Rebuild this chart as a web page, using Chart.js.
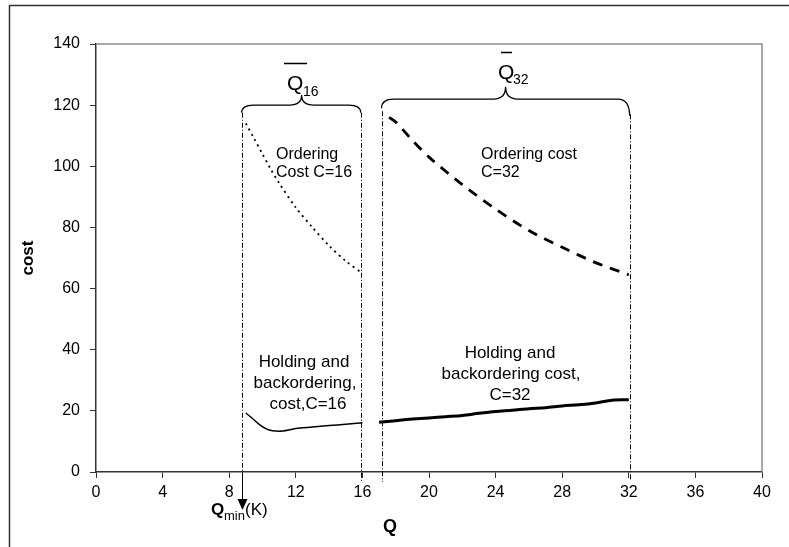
<!DOCTYPE html>
<html lang="en">
<head>
    <meta charset="UTF-8">
    <title>Cost vs Q</title>
    <script src="https://cdn.jsdelivr.net/npm/chart.js@4.4.0/dist/chart.umd.min.js"></script>
    <style>
        html, body { margin: 0; padding: 0; background: #fff; }
        #wrap { width: 789px; height: 547px; }
    </style>
</head>
<body>
    <div id="wrap"><canvas id="costChart" width="789" height="547"></canvas></div>

    <script>
        // values
        const qOrder16 = [9.0, 9.5, 10, 10.5, 11, 12, 13, 14, 15, 16];
        const costOrder16 = [114, 109, 104, 99, 94.5, 86.5, 80, 74, 69, 65];

        const qOrder32 = [17.6, 18, 19, 20, 22, 24, 26, 28, 30, 32];
        const costOrder32 = [116, 114.5, 108.5, 103, 94, 86, 79, 73.5, 68.5, 64.5];

        const qHold16 = [9.0, 9.4, 9.8, 10.2, 10.6, 11.2, 12, 13, 14, 15, 16];
        const costHold16 = [19.3, 17.5, 15.6, 14.2, 13.5, 13.4, 14.2, 14.7, 15.2, 15.6, 16.1];

        const qHold32 = [17, 18, 19, 20, 21, 22, 23, 24, 25, 26, 27, 28, 29, 30, 31, 32];
        const costHold32 = [16.3, 16.8, 17.3, 17.7, 18.1, 18.5, 19.2, 19.8, 20.2, 20.7, 21.0, 21.6, 22.0, 22.6, 23.5, 23.6];

        // range boundaries (Q) for the two braces
        const range16 = [8.75, 15.9];
        const range32 = [17.15, 32.05];
        const qMin = 8.75;

        const xTicks = [0, 4, 8, 12, 16, 20, 24, 28, 32, 36, 40];
        const yTicks = [0, 20, 40, 60, 80, 100, 120, 140];

        const FONT = "'Liberation Sans', Arial, sans-serif";

        function pts(xs, ys) {
            return xs.map((x, i) => ({ x: x, y: ys[i] }));
        }

        // brace over a range, y values in data units
        function brace(ctx, xs, ys, x1, x2, xm, yBar, yTip, yEnd1, yEnd2) {
            const X = v => xs.getPixelForValue(v);
            const Y = v => ys.getPixelForValue(v);
            const a = X(x1), b = X(x2), m = X(xm);
            const bar = Y(yBar), tip = Y(yTip);
            const r = 12;
            ctx.beginPath();
            ctx.moveTo(a, Y(yEnd1));
            ctx.quadraticCurveTo(a, bar, a + r, bar);
            ctx.lineTo(m - r, bar);
            ctx.quadraticCurveTo(m, bar, m, tip);
            ctx.quadraticCurveTo(m, bar, m + r, bar);
            ctx.lineTo(b - r, bar);
            ctx.quadraticCurveTo(b, bar, b, Y(yEnd2));
            ctx.stroke();
        }

        const extras = {
            id: 'extras',
            afterDraw(chart) {
                const ctx = chart.ctx;
                const xs = chart.scales.x, ys = chart.scales.y;
                const area = chart.chartArea;
                const X = v => xs.getPixelForValue(v);
                const Y = v => ys.getPixelForValue(v);
                ctx.save();

                // outer frame
                ctx.strokeStyle = '#333';
                ctx.lineWidth = 1.5;
                ctx.strokeRect(9.5, 5.5, 800, 560);

                // top / right plot border
                ctx.strokeStyle = '#8c8c8c';
                ctx.lineWidth = 1.5;
                ctx.beginPath();
                ctx.moveTo(area.left, area.top);
                ctx.lineTo(area.right, area.top);
                ctx.lineTo(area.right, area.bottom);
                ctx.stroke();

                // dash-dot verticals
                ctx.strokeStyle = '#000';
                ctx.lineWidth = 1;
                ctx.setLineDash([5, 2, 1, 2]);
                [[range16[0], 117.5, 500], [range16[1], 117.5, 481], [range32[0], 118, 482], [range32[1], 117, 481]].forEach(v => {
                    ctx.beginPath();
                    ctx.moveTo(Math.round(X(v[0])) + 0.5, Y(v[1]));
                    ctx.lineTo(Math.round(X(v[0])) + 0.5, v[2]);
                    ctx.stroke();
                });
                ctx.setLineDash([]);

                // arrow to Qmin
                const ax = Math.round(X(qMin)) + 0.5;
                ctx.beginPath();
                ctx.moveTo(ax, area.bottom);
                ctx.lineTo(ax, 500);
                ctx.stroke();
                ctx.fillStyle = '#000';
                ctx.beginPath();
                ctx.moveTo(ax - 5, 499);
                ctx.lineTo(ax + 5, 499);
                ctx.lineTo(ax, 510);
                ctx.closePath();
                ctx.fill();

                // braces
                ctx.lineWidth = 1.3;
                brace(ctx, xs, ys, range16[0], range16[1], 12.35, 120, 123.3, 117.5, 117.5);
                brace(ctx, xs, ys, range32[0], range32[1], 24.6, 122, 126, 119, 116.5);

                // Q-bar labels
                ctx.fillStyle = '#000';
                ctx.textBaseline = 'alphabetic';
                ctx.textAlign = 'left';
                ctx.font = '21px ' + FONT;
                ctx.fillText('Q', 287, 90);
                ctx.fillText('Q', 498, 79);
                ctx.font = '14px ' + FONT;
                ctx.fillText('16', 303, 96);
                ctx.fillText('32', 513, 84);
                ctx.lineWidth = 1.5;
                ctx.beginPath();
                ctx.moveTo(284, 63.5); ctx.lineTo(307, 63.5);
                ctx.moveTo(501, 52.5); ctx.lineTo(512, 52.5);
                ctx.stroke();

                // ordering cost labels
                ctx.font = '16px ' + FONT;
                ctx.textBaseline = 'middle';
                ctx.fillText('Ordering', 276, 155);
                ctx.fillText('Cost C=16', 276, 173);
                ctx.fillText('Ordering cost', 481, 155);
                ctx.fillText('C=32', 481, 173);

                // holding labels
                ctx.font = '17px ' + FONT;
                ctx.textAlign = 'center';
                ctx.fillText('Holding and', 304, 362);
                ctx.fillText('backordering,', 305, 383);
                ctx.fillText('cost,C=16', 308, 404);
                ctx.fillText('Holding and', 510, 353);
                ctx.fillText('backordering cost,', 511, 374);
                ctx.fillText('C=32', 510, 395);

                // Qmin(K)
                ctx.textAlign = 'left';
                ctx.textBaseline = 'alphabetic';
                ctx.font = 'bold 17px ' + FONT;
                ctx.fillText('Q', 211, 515);
                ctx.font = '13px ' + FONT;
                ctx.fillText('min', 224, 520);
                ctx.font = '17px ' + FONT;
                ctx.fillText('(K)', 245, 515);

                // axis titles
                ctx.font = 'bold 18px ' + FONT;
                ctx.textAlign = 'center';
                ctx.textBaseline = 'middle';
                ctx.fillText('Q', 390, 527);
                ctx.save();
                ctx.translate(28, 258);
                ctx.rotate(-Math.PI / 2);
                ctx.font = 'bold 17px ' + FONT;
                ctx.fillText('cost', 0, 0);
                ctx.restore();

                ctx.restore();
            }
        };

        const ctx = document.getElementById('costChart').getContext('2d');
        new Chart(ctx, {
            type: 'line',
            data: {
                datasets: [
                    { label: 'Ordering cost C=16', data: pts(qOrder16, costOrder16), borderColor: '#000', borderWidth: 1.8, borderDash: [2, 4], tension: 0.3 },
                    { label: 'Ordering cost C=32', data: pts(qOrder32, costOrder32), borderColor: '#000', borderWidth: 2.8, borderDash: [10, 8], tension: 0.3 },
                    { label: 'Holding C=16', data: pts(qHold16, costHold16), borderColor: '#000', borderWidth: 1.5, tension: 0.3 },
                    { label: 'Holding C=32', data: pts(qHold32, costHold32), borderColor: '#000', borderWidth: 3, tension: 0.3 }
                ]
            },
            options: {
                responsive: false,
                animation: false,
                devicePixelRatio: 1,
                layout: { padding: { left: 0, top: 44, right: 27, bottom: 0 } },
                elements: { point: { radius: 0 } },
                plugins: { legend: { display: false }, tooltip: { enabled: false } },
                scales: {
                    x: {
                        type: 'linear', min: 0, max: 40,
                        afterBuildTicks: s => { s.ticks = xTicks.map(v => ({ value: v })); },
                        afterFit: s => { s.height = 75; },
                        grid: { drawOnChartArea: false, drawTicks: true, tickLength: 6, color: '#333' },
                        border: { color: '#333', width: 1.5 },
                        ticks: { color: '#000', padding: 5, maxRotation: 0, font: { family: FONT, size: 16 } }
                    },
                    y: {
                        min: 0, max: 140,
                        afterBuildTicks: s => { s.ticks = yTicks.map(v => ({ value: v })); },
                        afterFit: s => { s.width = 96; },
                        grid: { drawOnChartArea: false, drawTicks: true, tickLength: 6, color: '#333' },
                        border: { color: '#333', width: 1.5 },
                        ticks: { color: '#000', padding: 10, font: { family: FONT, size: 16 } }
                    }
                }
            },
            plugins: [extras]
        });
    </script>
</body>
</html>
